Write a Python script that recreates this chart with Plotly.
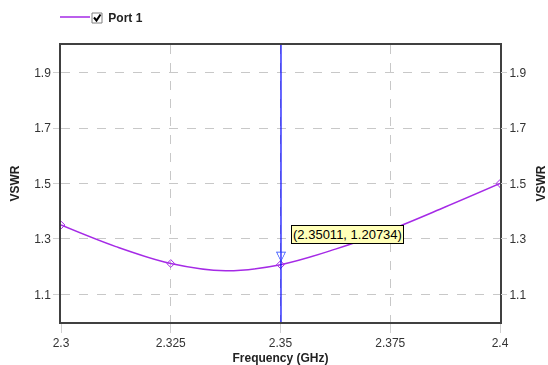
import plotly.graph_objects as go

# Data
freq = [2.3, 2.3125, 2.325, 2.3375, 2.35, 2.3625, 2.375, 2.3875, 2.4]
vswr = [1.350, 1.272, 1.211, 1.185, 1.207, 1.263, 1.333, 1.415, 1.500]
marker_freq = [2.3, 2.325, 2.35, 2.4]
marker_vswr = [1.350, 1.211, 1.207, 1.500]
cursor_x = 2.35011
cursor_y = 1.20734
x_ticks = [2.3, 2.325, 2.35, 2.375, 2.4]
x_tick_text = ["2.3", "2.325", "2.35", "2.375", "2.4"]
y_ticks = [1.1, 1.3, 1.5, 1.7, 1.9]
y_tick_text = ["1.1", "1.3", "1.5", "1.7", "1.9"]

LINE = "#A52AE6"
FONT = "Arial"

fig = go.Figure()
fig.add_trace(go.Scatter(
    x=freq, y=vswr, mode="lines", line=dict(color=LINE, width=1.5, shape="spline"),
    name="\u00a0\u00a0\u00a0\u00a0<b>Port 1</b>", showlegend=True, hoverinfo="skip"))
fig.add_trace(go.Scatter(
    x=marker_freq, y=marker_vswr, mode="markers",
    marker=dict(symbol="diamond-open", size=6, color=LINE, line=dict(width=1, color=LINE)),
    showlegend=False, hoverinfo="skip"))
fig.add_trace(go.Scatter(
    x=marker_freq, y=marker_vswr, mode="markers", yaxis="y2", opacity=0,
    showlegend=False, hoverinfo="skip"))

# cursor line
fig.add_shape(type="line", x0=cursor_x, x1=cursor_x, xref="x", y0=0, y1=1, yref="paper",
              line=dict(color="#0000FF", width=1.2))

# cursor triangle
fig.add_annotation(x=cursor_x, y=cursor_y, text="\u25BD", showarrow=False,
                   font=dict(color="#2040FF", size=13, family="DejaVu Sans"),
                   yshift=9)
# label box
fig.add_annotation(x=cursor_x, y=cursor_y, xref="x", yref="y",
                   text="(%.5f, %.5f)" % (cursor_x, cursor_y), showarrow=False,
                   xanchor="left", yanchor="middle", xshift=10, yshift=30,
                   bgcolor="#FFFFB8", bordercolor="#000000", borderwidth=1, borderpad=1,
                   font=dict(color="#000000", size=13, family=FONT))

# legend checkbox (paper coords)
W, H = 439.0, 277.0
def px(xp):
    return (xp - 61) / W
def py(yp):
    return (322 - yp) / H
fig.add_shape(type="rect", xref="paper", yref="paper",
              x0=px(92), x1=px(102), y0=py(23), y1=py(13),
              line=dict(color="#808080", width=1), fillcolor="white")
fig.add_shape(type="path", xref="paper", yref="paper",
              path="M %f,%f L %f,%f L %f,%f" % (px(94), py(17.5), px(96.5), py(20.5), px(100.5), py(14.5)),
              line=dict(color="#000000", width=2))

axis_common = dict(
    showline=True, linecolor="#404040", linewidth=1.5, mirror=True,
    gridcolor="#C8C8C8", griddash="dash", gridwidth=1,
    ticks="outside", tickcolor="#D0D0D0",
    tickfont=dict(family=FONT, size=12, color="#333333"),
    zeroline=False, automargin=False,
)

fig.update_layout(
    width=548, height=365,
    margin=dict(l=61, r=48, t=45, b=43, autoexpand=False),
    paper_bgcolor="white", plot_bgcolor="white",
    font=dict(family=FONT, size=12, color="#222222"),
    showlegend=True,
    legend=dict(x=px(55), y=py(2.5), xanchor="left", yanchor="top", orientation="h",
                font=dict(family=FONT, size=12, color="#222222"),
                bgcolor="rgba(0,0,0,0)", itemwidth=30),
    xaxis=dict(range=[2.3, 2.4], tickvals=x_ticks, ticktext=x_tick_text, ticklen=9,
               title=dict(text="<b>Frequency (GHz)</b>", font=dict(size=12, family=FONT), standoff=4),
               **axis_common),
    yaxis=dict(range=[1.0, 2.0], tickvals=y_ticks, ticktext=y_tick_text, ticklen=6,
               title=dict(text="<b>VSWR</b>", font=dict(size=12, family=FONT), standoff=12),
               **axis_common),
    yaxis2=dict(range=[1.0, 2.0], tickvals=y_ticks, ticktext=y_tick_text, overlaying="y", side="right",
                showgrid=False, showline=False, ticks="outside", ticklen=6, tickcolor="#D0D0D0",
                tickfont=dict(family=FONT, size=12, color="#333333"), zeroline=False, automargin=False,
                title=dict(text="<b>VSWR</b>", font=dict(size=12, family=FONT), standoff=12)),
)

fig.write_html("out.html")
